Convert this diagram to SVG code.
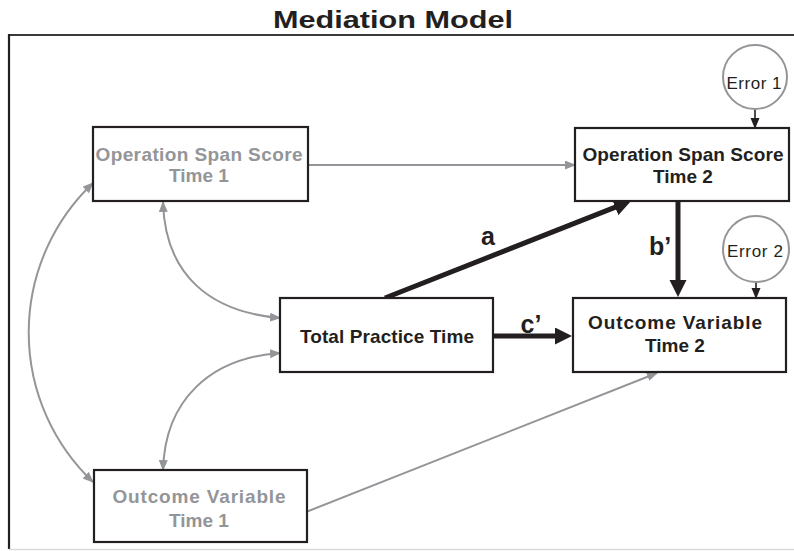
<svg xmlns="http://www.w3.org/2000/svg" width="794" height="551" viewBox="0 0 794 551">
<style>
.box{fill:#fff;stroke:#231f20;stroke-width:2.2}
.t{font-family:"Liberation Sans",Arial,sans-serif;font-weight:bold;font-size:19px;text-anchor:middle}
.gt{fill:#939598}
.bt{fill:#231f20}
.lbl{font-family:"Liberation Sans",Arial,sans-serif;font-weight:bold;font-size:25px;fill:#231f20;text-anchor:middle}
.err{font-family:"Liberation Sans",Arial,sans-serif;font-size:17px;fill:#231f20;text-anchor:middle}
.circ{fill:#fff;stroke:#939598;stroke-width:2}
.g{fill:none;stroke:#939598;stroke-width:2}
.k{fill:none;stroke:#231f20;stroke-width:5}
.kt{fill:none;stroke:#231f20;stroke-width:1.6}
</style>
<defs>
<marker id="ag" markerUnits="userSpaceOnUse" markerWidth="12" markerHeight="10" refX="10" refY="4.5" orient="auto-start-reverse"><path d="M0,0 L11,4.5 L0,9 z" fill="#939598"/></marker>
<marker id="ak" markerUnits="userSpaceOnUse" markerWidth="12" markerHeight="10" refX="10" refY="4.5" orient="auto"><path d="M0,0 L11,4.5 L0,9 z" fill="#231f20"/></marker>
<marker id="aK" markerUnits="userSpaceOnUse" markerWidth="20" markerHeight="18" refX="3" refY="8.5" orient="auto"><path d="M0,0 L17,8.5 L0,17 z" fill="#231f20"/></marker>
</defs>
<rect width="794" height="551" fill="#fff"/>
<text x="393" y="28" font-family="'Liberation Sans',Arial,sans-serif" font-weight="bold" font-size="24" fill="#231f20" text-anchor="middle" textLength="240" lengthAdjust="spacingAndGlyphs">Mediation Model</text>
<g id="frame">
<line x1="9" y1="35" x2="794" y2="35" stroke="#3a3a3a" stroke-width="2.2"/>
<line x1="9" y1="34" x2="9" y2="549" stroke="#231f20" stroke-width="2.2"/>
<line x1="9" y1="549.5" x2="794" y2="549.5" stroke="#d9d9d9" stroke-width="1.5"/>
</g>
<g id="connectors">
<path class="g" d="M308,165 L575,165" marker-end="url(#ag)"/>
<path class="g" d="M306,512 L657,373" marker-end="url(#ag)"/>
<path class="g" d="M163,202 C165,275 210,312 280,318" marker-start="url(#ag)" marker-end="url(#ag)"/>
<path class="g" d="M163,470 C165,400 210,358 280,353" marker-start="url(#ag)" marker-end="url(#ag)"/>
<path class="g" d="M93,183 A206,206 0 0 0 93,482" marker-start="url(#ag)" marker-end="url(#ag)"/>
<path class="k" d="M385,298 L618,206.2" marker-end="url(#aK)"/>
<path class="k" d="M678,201 L678,283" marker-end="url(#aK)"/>
<path class="k" d="M493,336 L558,336" marker-end="url(#aK)"/>
<path class="kt" d="M755,109 L755,128" marker-end="url(#ak)"/>
<path class="kt" d="M756,282 L756,298" marker-end="url(#ak)"/>
<text class="lbl" x="488" y="245">a</text>
<text class="lbl" x="660" y="255">b’</text>
<text class="lbl" x="531" y="333">c’</text>
</g>
<g id="os1">
<rect class="box" x="93" y="127" width="215" height="74"/>
<text class="t gt" x="199" y="161" textLength="207">Operation Span Score</text>
<text class="t gt" x="199" y="182">Time 1</text>
</g>
<g id="os2">
<rect class="box" x="575" y="128" width="214" height="73"/>
<text class="t bt" x="683" y="161" textLength="201">Operation Span Score</text>
<text class="t bt" x="683" y="183">Time 2</text>
</g>
<g id="tpt">
<rect class="box" x="280" y="298" width="213" height="74"/>
<text class="t bt" x="387" y="343" textLength="174">Total Practice Time</text>
</g>
<g id="ov2">
<rect class="box" x="573" y="298" width="213" height="74"/>
<text class="t bt" x="675" y="329" textLength="174">Outcome Variable</text>
<text class="t bt" x="675" y="352">Time 2</text>
</g>
<g id="ov1">
<rect class="box" x="94" y="470" width="213" height="72"/>
<text class="t gt" x="199" y="503" textLength="173">Outcome Variable</text>
<text class="t gt" x="199" y="527">Time 1</text>
</g>
<g id="error1">
<circle class="circ" cx="755" cy="77" r="32"/>
<text class="err" x="754" y="89" textLength="55">Error 1</text>
</g>
<g id="error2">
<circle class="circ" cx="756" cy="249" r="33"/>
<text class="err" x="755" y="257" textLength="56">Error 2</text>
</g>
</svg>
